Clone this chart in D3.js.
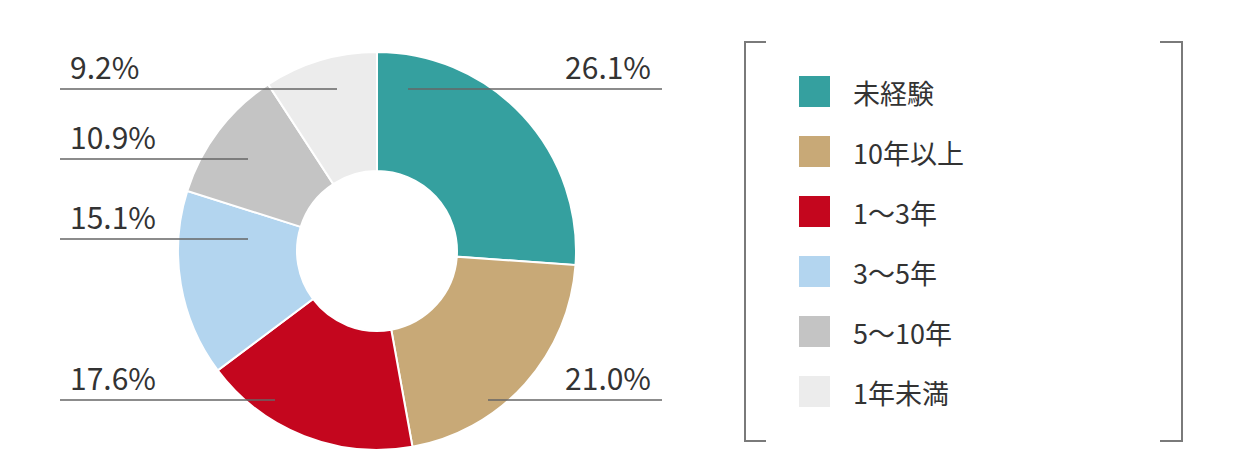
<!DOCTYPE html>
<html>
<head>
<meta charset="utf-8">
<script src="https://cdn.jsdelivr.net/npm/d3@7"></script>
<style>
  body { margin: 0; background: #fff; }
  svg text { font-family: "Noto Sans CJK JP", "Noto Sans", sans-serif; fill: #333; }
</style>
</head>
<body>
<div id="vis"></div>
<script>
// data
const CATEGORIES = ["未経験", "10年以上", "1〜3年", "3〜5年", "5〜10年", "1年未満"];
const VALUES = [26.1, 21.0, 17.6, 15.1, 10.9, 9.2];
const LABELS = ["26.1%", "21.0%", "17.6%", "15.1%", "10.9%", "9.2%"];
const COLORS = ["#35a09f", "#c8a977", "#c4061e", "#b3d5ef", "#c4c4c4", "#ececec"];

const FRAME_WIDTH = 1260;
const FRAME_HEIGHT = 473;
const CX = 377, CY = 251;
const OUTER = 199, INNER = 80;

// where each label sits (hand placed like the original)
const LABEL_POS = [
  {side: "right", y: 89,  x1: 408, x2: 662},
  {side: "right", y: 400, x1: 488, x2: 662},
  {side: "left",  y: 400, x1: 60,  x2: 275},
  {side: "left",  y: 239, x1: 60,  x2: 248},
  {side: "left",  y: 159, x1: 60,  x2: 248},
  {side: "left",  y: 89,  x1: 60,  x2: 337}
];

const FRAME = d3.select("#vis")
  .append("svg")
  .attr("width", FRAME_WIDTH)
  .attr("height", FRAME_HEIGHT);

const color = d3.scaleOrdinal().domain(CATEGORIES).range(COLORS);

const rows = CATEGORIES.map((c, i) => ({cat: c, value: VALUES[i], label: LABELS[i]}));

const pie = d3.pie().value(d => d.value).sort(null);
const arc = d3.arc().innerRadius(INNER).outerRadius(OUTER);

// donut
FRAME.append("g")
  .attr("transform", "translate(" + CX + "," + CY + ")")
  .selectAll("path")
  .data(pie(rows))
  .enter()
  .append("path")
    .attr("d", arc)
    .attr("fill", d => color(d.data.cat))
    .attr("stroke", "#fff")
    .attr("stroke-width", 2);

// leader lines + labels
const lab = FRAME.append("g");
rows.forEach((d, i) => {
  const p = LABEL_POS[i];
  lab.append("line")
    .attr("x1", p.x1).attr("x2", p.x2)
    .attr("y1", p.y).attr("y2", p.y)
    .attr("stroke", "#666")
    .attr("stroke-width", 1.6);
  lab.append("text")
    .attr("x", p.side === "right" ? 651 : 70)
    .attr("y", p.y - 10)
    .attr("text-anchor", p.side === "right" ? "end" : "start")
    .attr("font-size", "30px")
    .text(d.label);
});

// legend bracket
const bracket = FRAME.append("g")
  .attr("fill", "none")
  .attr("stroke", "#7a7a7a")
  .attr("stroke-width", 2);
bracket.append("path").attr("d", "M766,42 H745 V441 H766");
bracket.append("path").attr("d", "M1160,42 H1182 V441 H1160");

// legend items
const ly = d3.scalePoint().domain(CATEGORIES).range([91, 391]);
const leg = FRAME.append("g")
  .selectAll("g")
  .data(CATEGORIES)
  .enter()
  .append("g")
  .attr("transform", d => "translate(0," + ly(d) + ")");

leg.append("rect")
  .attr("x", 799).attr("y", -15)
  .attr("width", 31).attr("height", 31)
  .attr("fill", d => color(d));

leg.append("text")
  .attr("x", 853)
  .attr("y", 1)
  .attr("dominant-baseline", "central")
  .attr("font-size", "27px")
  .text(d => d);
</script>
</body>
</html>
